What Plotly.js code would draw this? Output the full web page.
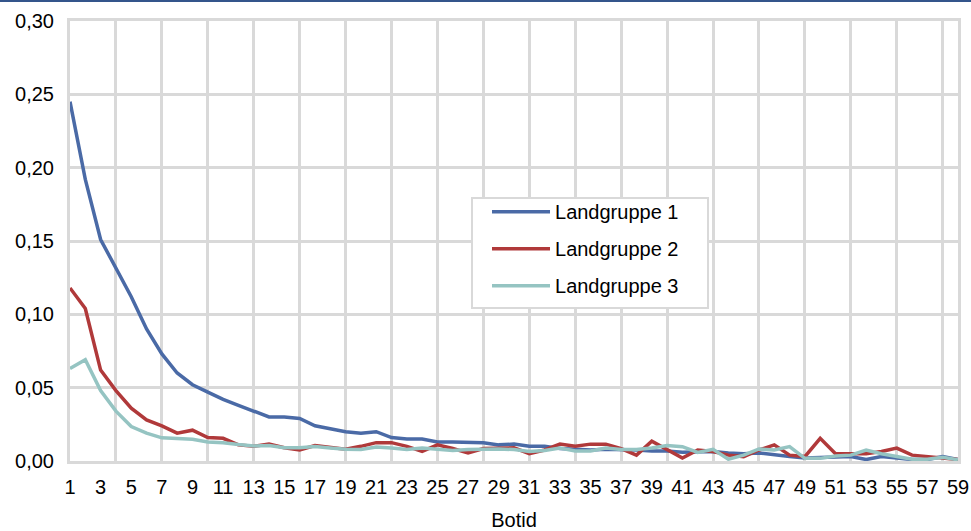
<!DOCTYPE html>
<html>
<head>
<meta charset="utf-8">
<script src="https://cdn.plot.ly/plotly-3.0.1.min.js"></script>
<style>
  html, body { margin: 0; padding: 0; background: #fff; }
  #wrap { position: relative; width: 971px; height: 531px; }
  #topline { position: absolute; left: 0; top: 0; width: 971px; height: 2px; background: #34558b; z-index: 5; }
  #chart { width: 971px; height: 531px; }
</style>
</head>
<body>
<div id="wrap"><div id="topline"></div><div id="chart"></div></div>
<script>
// Botid (x categories 1..59)
const botid = [];
for (let i = 1; i <= 59; i++) botid.push(i);

const seriesNames = ["Landgruppe 1", "Landgruppe 2", "Landgruppe 3"];

const landgruppe1 = [0.245,0.192,0.151,0.132,0.112,0.090,0.073,0.060,0.052,0.047,
  0.042,0.038,0.034,0.030,0.030,0.029,0.024,0.022,0.020,0.019,
  0.020,0.016,0.015,0.015,0.013,0.013,0.0125,0.0125,0.011,0.0115,
  0.010,0.010,0.0085,0.008,0.0075,0.008,0.008,0.0075,0.0068,0.0068,
  0.006,0.006,0.0065,0.0055,0.005,0.0055,0.004,0.003,0.002,0.0025,
  0.003,0.003,0.001,0.003,0.002,0.001,0.001,0.003,0.001];

const landgruppe2 = [0.118,0.104,0.062,0.048,0.036,0.028,0.024,0.019,0.021,0.016,
  0.0155,0.011,0.010,0.0115,0.009,0.0075,0.0105,0.009,0.008,0.010,
  0.0125,0.0125,0.010,0.0065,0.011,0.0085,0.0055,0.0085,0.0085,0.009,
  0.005,0.0075,0.0115,0.010,0.0115,0.0115,0.0085,0.004,0.0135,0.0075,
  0.002,0.0075,0.0065,0.004,0.003,0.0075,0.011,0.004,0.003,0.0155,
  0.005,0.005,0.005,0.0065,0.0088,0.004,0.003,0.0025,0.001];

const landgruppe3 = [0.063,0.069,0.048,0.034,0.0235,0.019,0.0158,0.0155,0.0148,0.013,
  0.0125,0.0112,0.0102,0.0105,0.009,0.009,0.0098,0.0088,0.008,0.0078,
  0.0095,0.0088,0.0078,0.0088,0.0078,0.0072,0.0078,0.0082,0.0082,0.0078,
  0.0065,0.0072,0.0088,0.0068,0.0068,0.0088,0.0078,0.0078,0.0088,0.0105,
  0.0098,0.0058,0.008,0.0012,0.004,0.0082,0.0075,0.0098,0.0018,0.0018,
  0.0034,0.004,0.0075,0.005,0.003,0.0012,0.0012,0.0025,0.0008];

const xTickVals = botid.filter(v => v % 2 === 1);
const xTickText = xTickVals.map(String);
const yTickVals = [0, 0.05, 0.10, 0.15, 0.20, 0.25, 0.30];

const colors = ["#4a6aa6", "#b0393a", "#95c4c2"];
const allSeries = [landgruppe1, landgruppe2, landgruppe3];

const traces = allSeries.map((ys, i) => ({
  x: botid, y: ys, type: "scatter", mode: "lines",
  name: seriesNames[i], legendgroup: "g" + i,
  line: { color: colors[i], width: 3.5 },
  xaxis: "x", yaxis: "y"
}));
// invisible trace on the overlay axis to carry vertical gridlines every 3 categories
traces.unshift({ x: [1, 59], y: [0, 0], type: "scatter", mode: "lines", xaxis: "x2", yaxis: "y",
  line: { width: 0 }, showlegend: false, hoverinfo: "skip" });

const grid = "#d9d9d9";
const font = { family: "Liberation Sans, Arial, sans-serif", size: 20, color: "#000" };

const layout = {
  width: 971, height: 531,
  margin: { l: 70, r: 13, t: 21, b: 70 },
  paper_bgcolor: "#fff", plot_bgcolor: "#fff",
  separators: ",.",
  font: font,
  showlegend: true,
  xaxis: {
    range: [1, 59], tickvals: xTickVals, ticktext: xTickText,
    showgrid: false, zeroline: false, ticks: "", ticklabelstandoff: 6,
    showline: true, mirror: true, linecolor: grid, linewidth: 3,
    tickfont: font,
    title: { text: "Botid", font: font, standoff: 25 }
  },
  xaxis2: {
    overlaying: "x", range: [1, 59], tick0: 1, dtick: 3,
    showgrid: true, gridcolor: grid, gridwidth: 3, showticklabels: false,
    zeroline: false, ticks: "", layer: "below traces"
  },
  yaxis: {
    range: [0, 0.30], tickvals: yTickVals, tickformat: ".2f",
    showgrid: true, gridcolor: grid, gridwidth: 3, zeroline: false,
    ticks: "", ticklabelstandoff: 9,
    showline: true, mirror: true, linecolor: grid, linewidth: 3,
    tickfont: font
  },
  // legend frame (white box with light grey border)
  shapes: [{
    type: "rect", xref: "paper", yref: "paper", layer: "above",
    x0: 0.4527, x1: 0.7185, y0: 0.3477, y1: 0.5977,
    fillcolor: "#fff", line: { color: grid, width: 2 }
  }],
  legend: {
    x: 0.4696, y: 0.611, xanchor: "left", yanchor: "top",
    bgcolor: "rgba(0,0,0,0)", borderwidth: 0,
    traceorder: "grouped", tracegroupgap: 8, itemwidth: 58,
    font: font
  }
};

Plotly.newPlot("chart", traces, layout, { displayModeBar: false, staticPlot: true });
</script>
</body>
</html>
